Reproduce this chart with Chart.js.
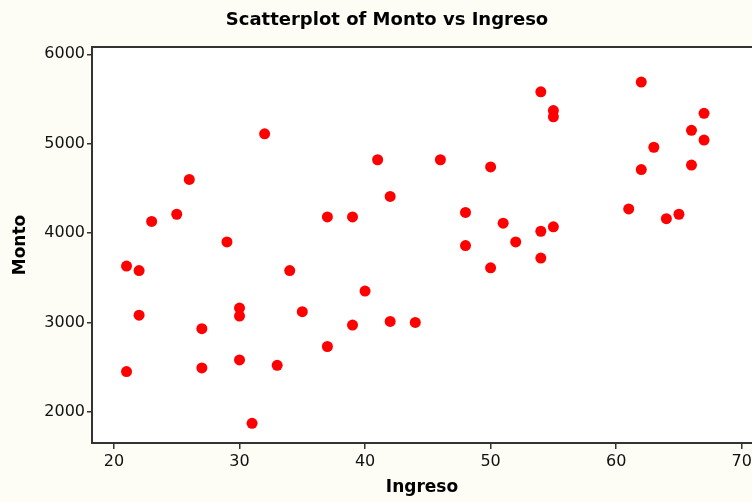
<!DOCTYPE html>
<html>
<head>
<meta charset="utf-8">
<script src="https://cdn.jsdelivr.net/npm/chart.js@4.4.1/dist/chart.umd.min.js"></script>
<style>
  html, body { margin: 0; padding: 0; background: #fdfdf6; }
  #wrap { width: 752px; height: 502px; }
</style>
</head>
<body>
<div id="wrap"><canvas id="chart" width="752" height="502"></canvas></div>
<script>
const ingreso = [
  21, 21, 22, 22, 23, 25, 26, 27, 27, 29,
  30, 30, 30, 31, 32, 33, 34, 35, 37, 37,
  39, 39, 40, 41, 42, 42, 44, 46, 48, 48,
  50, 50, 51, 52, 54, 54, 54, 55, 55, 55,
  61, 62, 62, 63, 64, 65, 66, 66, 67, 67,
]
const monto = [
  3630, 2450, 3580, 3080, 4130, 4210, 4600, 2930, 2490, 3900,
  3160, 3070, 2580, 1870, 5110, 2520, 3580, 3120, 4180, 2730,
  4180, 2970, 3350, 4820, 4410, 3010, 3000, 4820, 4230, 3860,
  4740, 3610, 4110, 3900, 5580, 4020, 3720, 5370, 5300, 4070,
  4270, 5690, 4710, 4960, 4160, 4210, 5150, 4760, 5340, 5040,
]
const xTicks = [20, 30, 40, 50, 60, 70]
const yTicks = [2000, 3000, 4000, 5000, 6000]

const AXIS_COLOR = '#333333'
const FONT = '"DejaVu Sans", Verdana, sans-serif'

const points = ingreso.map((x, i) => ({ x, y: monto[i] }))

// white plot area, top frame line and chart title
const framePlugin = {
  id: 'frame',
  beforeDraw(chart) {
    const { ctx, chartArea: a } = chart
    ctx.save()
    ctx.fillStyle = '#ffffff'
    ctx.fillRect(a.left, a.top, a.right - a.left, a.bottom - a.top)
    ctx.restore()
  },
  afterDraw(chart) {
    const { ctx, chartArea: a } = chart
    ctx.save()
    ctx.strokeStyle = AXIS_COLOR
    ctx.lineWidth = 2
    ctx.beginPath()
    ctx.moveTo(a.left, a.top)
    ctx.lineTo(a.right, a.top)
    ctx.stroke()
    ctx.fillStyle = '#000000'
    ctx.font = 'bold 18px ' + FONT
    ctx.textAlign = 'center'
    ctx.textBaseline = 'middle'
    ctx.fillText('Scatterplot of Monto vs Ingreso', 387, 20)
    ctx.restore()
  },
}

new Chart(document.getElementById('chart'), {
  type: 'scatter',
  data: {
    datasets: [{
      data: points,
      backgroundColor: '#ff0000',
      borderWidth: 0,
      pointRadius: 5.5,
      pointHoverRadius: 5.5,
    }],
  },
  options: {
    responsive: false,
    animation: false,
    events: [],
    layout: { autoPadding: false, padding: { top: 47, left: 0, right: 0, bottom: 0 } },
    plugins: {
      legend: { display: false },
      tooltip: { enabled: false },
      title: { display: false },
    },
    scales: {
      x: {
        type: 'linear',
        min: 18.25,
        max: 70.82,
        afterBuildTicks: (scale) => { scale.ticks = xTicks.map((value) => ({ value })) },
        afterFit: (scale) => {
          scale.height = 59
          scale.paddingLeft = 0
          scale.paddingRight = 0
        },
        grid: { drawOnChartArea: false, tickLength: 6, color: AXIS_COLOR, lineWidth: 1.5 },
        border: { color: AXIS_COLOR, width: 2 },
        ticks: { color: '#111', font: { family: FONT, size: 16 }, padding: 3, maxRotation: 0 },
        title: {
          display: true,
          text: 'Ingreso',
          color: '#000',
          font: { family: FONT, size: 17, weight: 'bold' },
          padding: { top: 0, bottom: 4 },
        },
      },
      y: {
        type: 'linear',
        min: 1650,
        max: 6082,
        afterBuildTicks: (scale) => { scale.ticks = yTicks.map((value) => ({ value })) },
        afterFit: (scale) => {
          scale.width = 92
          scale.paddingTop = 0
          scale.paddingBottom = 0
        },
        grid: { drawOnChartArea: false, tickLength: 5, color: AXIS_COLOR, lineWidth: 1.5 },
        border: { color: AXIS_COLOR, width: 2 },
        ticks: {
          color: '#111',
          font: { family: FONT, size: 16 },
          padding: 2,
          callback: (value) => String(value),
        },
        title: {
          display: true,
          text: 'Monto',
          color: '#000',
          font: { family: FONT, size: 17, weight: 'bold' },
          padding: { top: 10, bottom: 0 },
        },
      },
    },
  },
  plugins: [framePlugin],
})
</script>
</body>
</html>
